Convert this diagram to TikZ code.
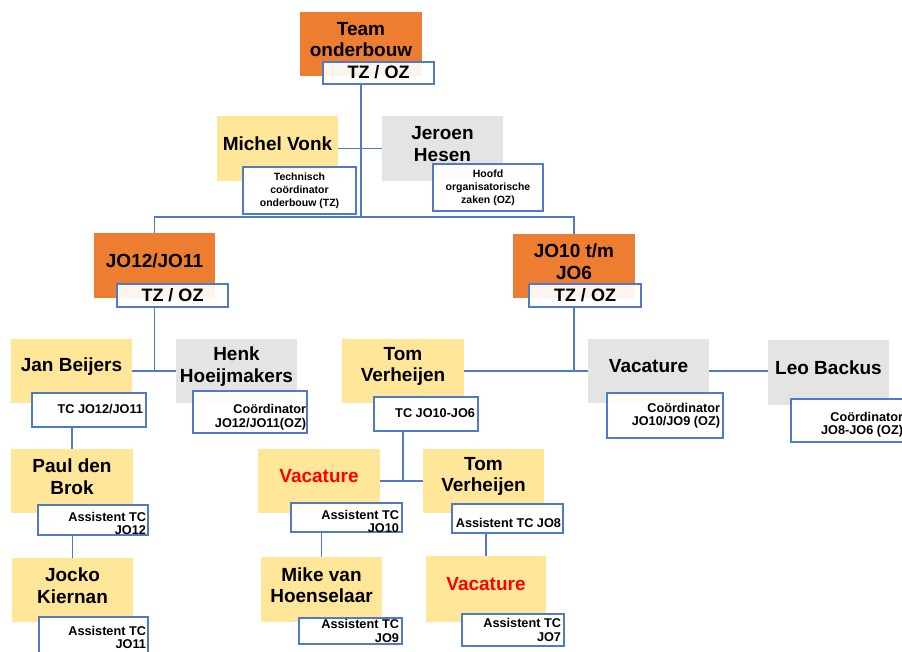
\documentclass[tikz,border=0pt]{standalone}
\usepackage{fontspec}
\setmainfont{Liberation Sans}
\definecolor{orangec}{HTML}{ED7D31}
\definecolor{yellowc}{HTML}{FFE699}
\definecolor{greyc}{HTML}{E4E4E4}
\definecolor{bluec}{HTML}{4F7AC7}
\definecolor{redc}{HTML}{FF0000}
\tikzset{
  base/.style={inner sep=0pt, outer sep=0pt},
  obox/.style={base, fill=orangec},
  ybox/.style={base, fill=yellowc},
  gbox/.style={base, fill=greyc},
  sbox/.style={base, draw=bluec, line width=1.1pt, fill=white, fill opacity=0.92},
  conn/.style={draw=bluec, line width=1.3pt},
  mtxt/.style={base, align=center, font=\fontsize{19}{21.5}\selectfont\bfseries, yshift=4.5pt},
  tzt/.style={base, align=center, font=\fontsize{18}{20}\selectfont\bfseries},
  smallt/.style={base, align=center, font=\fontsize{10.5}{13}\selectfont\bfseries},
  rt/.style={base, align=right, anchor=east, font=\fontsize{12.7}{13.5}\selectfont\bfseries}
}
\newcommand\bx[6]{\node[#2, minimum width={#5-#3}, minimum height={#6-#4}] (#1) at ({(#3+#5)/2},{-(#4+#6)/2}) {};}
\begin{document}
\begin{tikzpicture}[x=1pt,y=1pt]
\useasboundingbox (0,0) rectangle (902,-651);
% main boxes
\bx{team}{obox}{300}{12}{422}{76}
\bx{michel}{ybox}{217}{116}{338}{181}
\bx{jeroen}{gbox}{382}{116}{503}{181}
\bx{jo12}{obox}{94}{233}{215}{298}
\bx{jo10}{obox}{513}{234}{635}{298}
\bx{jan}{ybox}{11}{339}{132}{403}
\bx{henk}{gbox}{176}{339}{297}{403}
\bx{tom}{ybox}{342}{339}{464}{403}
\bx{vac1}{gbox}{588}{339}{709}{403}
\bx{leo}{gbox}{768}{340}{889}{405}
\bx{paul}{ybox}{11}{449}{133}{513}
\bx{jocko}{ybox}{12}{558}{133}{622}
\bx{vac2}{ybox}{258}{449}{380}{513}
\bx{tom2}{ybox}{423}{449}{544}{513}
\bx{mike}{ybox}{261}{557}{382}{622}
\bx{vac3}{ybox}{426}{556}{546}{622}
% connector points
\coordinate (bus) at (361,-217);
\coordinate (teamdrop) at (361,-84);
% connectors
\draw[conn] (teamdrop) -- (bus);
\draw[conn] (michel.east) -- (jeroen.west);
\draw[conn] (jo12.north) |- (bus);
\draw[conn] (jo10.north) |- (bus);
\draw[conn] (jo12.north |- 0,-307) -- (jo12.north |- jan.east);
\draw[conn] (jan.east) -- (henk.west);
\draw[conn] (jo10.north |- 0,-307) |- (vac1.west);
\draw[conn] (tom.east) -- (vac1.west);
\draw[conn] (vac1.east) -- (vac1.east -| leo.west);
\draw[conn] (paul.north |- 0,-427) -- (paul.north);
\draw[conn] (jocko.north |- 0,-535) -- (jocko.north);
\coordinate (tj) at (tom.south |- vac2.east);
\draw[conn] (tom.south |- 0,-431) -- (tj);
\draw[conn] (vac2.east) -- (tom2.west);
\draw[conn] (mike.north |- 0,-532) -- (mike.north);
\draw[conn] (vac3.north |- 0,-533) -- (vac3.north);
% sub boxes
\bx{teamS}{sbox}{323}{62}{434}{84}
\bx{michelS}{sbox}{243}{167}{356}{214}
\bx{jeroenS}{sbox}{433}{164}{543}{211}
\bx{jo12S}{sbox}{117}{284}{228}{307}
\bx{jo10S}{sbox}{529}{284}{641}{307}
\bx{janS}{sbox}{32}{393}{146}{427}
\bx{henkS}{sbox}{193}{391}{307}{433}
\bx{tomS}{sbox}{374}{397}{478}{431}
\bx{vac1S}{sbox}{607}{393}{723}{438}
\bx{leoS}{sbox}{791}{399}{906}{442}
\bx{paulS}{sbox}{38}{505}{148}{535}
\bx{jockoS}{sbox}{39}{617}{148}{653}
\bx{vac2S}{sbox}{291}{503}{402}{532}
\bx{tom2S}{sbox}{452}{504}{563}{533}
\bx{mikeS}{sbox}{299}{618}{402}{644}
\bx{vac3S}{sbox}{462}{614}{564}{646}
% main texts
\node[mtxt] (teamT) at (team.center) {Team\\onderbouw};
\node[mtxt] (michelT) at (michel.center) {Michel Vonk};
\node[mtxt] (jeroenT) at (jeroen.center) {Jeroen\\Hesen};
\node[mtxt] (jo12T) at (jo12.center) {JO12/JO11};
\node[mtxt] (jo10T) at (jo10.center) {JO10 t/m\\JO6};
\node[mtxt] (janT) at (jan.center) {Jan Beijers};
\node[mtxt] (henkT) at (henk.center) {Henk\\Hoeijmakers};
\node[mtxt] (tomT) at (tom.center) {Tom\\Verheijen};
\node[mtxt] (vac1T) at (vac1.center) {Vacature};
\node[mtxt] (leoT) at (leo.center) {Leo Backus};
\node[mtxt] (paulT) at (paul.center) {Paul den\\Brok};
\node[mtxt] (jockoT) at (jocko.center) {Jocko\\Kiernan};
\node[mtxt, text=redc] (vac2T) at (vac2.center) {Vacature};
\node[mtxt] (tom2T) at (tom2.center) {Tom\\Verheijen};
\node[mtxt] (mikeT) at (mike.center) {Mike van\\Hoenselaar};
\node[mtxt, text=redc] (vac3T) at (vac3.center) {Vacature};
% sub texts
\node[tzt] (teamST) at ([yshift=0.5pt]teamS.center) {TZ / OZ};
\node[tzt] (jo12ST) at ([yshift=0.5pt]jo12S.center) {TZ / OZ};
\node[tzt] (jo10ST) at ([yshift=0.5pt]jo10S.center) {TZ / OZ};
\node[smallt] (michelST) at (michelS.center) {Technisch\\coördinator\\onderbouw (TZ)};
\node[smallt] (jeroenST) at (jeroenS.center) {Hoofd\\organisatorische\\zaken (OZ)};
\node[rt] (janST) at ([xshift=-3pt,yshift=1pt]janS.east) {TC JO12/JO11};
\node[rt] (henkST) at ([xshift=-1pt,yshift=-5pt]henkS.east) {Coördinator\\JO12/JO11(OZ)};
\node[rt] (tomST) at ([xshift=-3pt,yshift=1pt]tomS.east) {TC JO10-JO6};
\node[rt] (vac1ST) at ([xshift=-3pt]vac1S.east) {Coördinator\\JO10/JO9 (OZ)};
\node[rt] (leoST) at ([xshift=-3pt,yshift=-4pt]leoS.east) {Coördinator\\JO8-JO6 (OZ)};
\node[rt] (paulST) at ([xshift=-2pt,yshift=-3.5pt]paulS.east) {Assistent TC\\JO12};
\node[rt] (jockoST) at ([xshift=-2pt,yshift=-2.5pt]jockoS.east) {Assistent TC\\JO11};
\node[rt] (vac2ST) at ([xshift=-3pt,yshift=-4pt]vac2S.east) {Assistent TC\\JO10};
\node[rt] (tom2ST) at ([xshift=-2pt,yshift=-4.5pt]tom2S.east) {Assistent TC JO8};
\node[rt] (mikeST) at ([xshift=-3pt]mikeS.east) {Assistent TC\\JO9};
\node[rt] (vac3ST) at ([xshift=-3pt]vac3S.east) {Assistent TC\\JO7};
\end{tikzpicture}
\end{document}
